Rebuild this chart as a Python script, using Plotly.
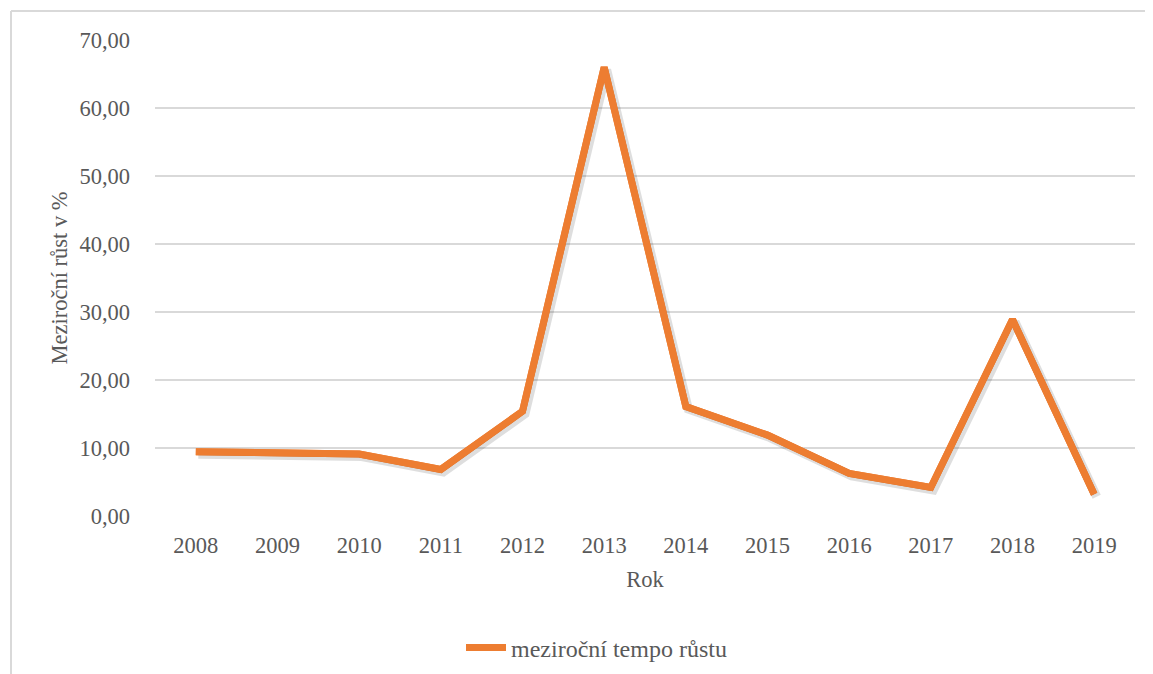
import plotly.graph_objects as go

years = ["2008", "2009", "2010", "2011", "2012", "2013", "2014", "2015", "2016", "2017", "2018", "2019"]
growth = [9.45, 9.3, 9.1, 6.85, 15.4, 66.0, 16.1, 11.9, 6.26, 4.2, 28.9, 3.2]
y_ticks = [0, 10, 20, 30, 40, 50, 60, 70]
y_tick_labels = ["0,00", "10,00", "20,00", "30,00", "40,00", "50,00", "60,00", "70,00"]

W, H = 1153, 674
OFF = 8  # page body offset
# target plot area in screenshot coords: x 155..1135, y 40..516
L = 155 - OFF
T = 40 - OFF
R = W - (1135 - OFF)
B = H - (516 - OFF)
pw, ph = W - L - R, H - T - B

def px(xs):  # screenshot x -> paper x
    return (xs - OFF - L) / pw

def py(ys):  # screenshot y -> paper y
    return (T + ph - (ys - OFF)) / ph

FONT = "Liberation Serif, Times New Roman, serif"
TXT = "#595959"
GRID = "#D9D9D9"
ORANGE = "#ED7D31"

n = len(years)
xr = [-0.5, n - 0.5]
yr = [0, 70]
dx = 2.5 / pw * (xr[1] - xr[0])
dy = 2.5 / ph * (yr[1] - yr[0])

fig = go.Figure()
fig.add_trace(go.Scatter(x=years, y=growth, mode="lines", name="meziroční tempo růstu",
                         line=dict(color=ORANGE, width=7)))
# soft shadow
fig.add_trace(go.Scatter(x=years, y=growth, mode="lines", xaxis="x2", yaxis="y2",
                         line=dict(color="rgba(0,0,0,0.13)", width=9),
                         showlegend=False, hoverinfo="skip"))
# line on top of the shadow
fig.add_trace(go.Scatter(x=years, y=growth, mode="lines", xaxis="x3", yaxis="y3",
                         line=dict(color=ORANGE, width=7),
                         showlegend=False, hoverinfo="skip"))

fig.update_layout(
    width=W, height=H,
    margin=dict(l=L, r=R, t=T, b=B),
    paper_bgcolor="white", plot_bgcolor="white",
    font=dict(family=FONT, size=22.5, color=TXT),
    xaxis=dict(type="category", range=xr, showgrid=False, zeroline=False,
               showline=False, ticks="", ticklabelstandoff=13,
               title=dict(text="Rok", font=dict(size=22.5, color=TXT), standoff=14)),
    yaxis=dict(range=yr, tickvals=y_ticks, ticktext=y_tick_labels,
               showgrid=True, gridcolor=GRID, gridwidth=1.5, zeroline=False,
               showline=False, ticks="", ticklabelstandoff=24,
               title=dict(text="Meziroční růst v %", font=dict(size=22.5, color=TXT), standoff=5)),
    xaxis2=dict(type="category", overlaying="x", range=[xr[0] - dx, xr[1] - dx], visible=False),
    yaxis2=dict(overlaying="y", range=[yr[0] + dy, yr[1] + dy], visible=False),
    xaxis3=dict(type="category", overlaying="x", range=xr, visible=False),
    yaxis3=dict(overlaying="y", range=yr, visible=False),
    showlegend=True,
    legend=dict(x=px(461), y=py(648), xanchor="left", yanchor="middle",
                orientation="h", font=dict(size=24, color=TXT), itemwidth=40),
    shapes=[
        dict(type="line", xref="paper", yref="paper",
             x0=px(11), x1=px(W + 20), y0=py(11), y1=py(11),
             line=dict(color=GRID, width=2)),
        dict(type="line", xref="paper", yref="paper",
             x0=px(11), x1=px(11), y0=py(11), y1=py(H + 20),
             line=dict(color=GRID, width=2)),
    ],
)

fig.write_html("out.html")
